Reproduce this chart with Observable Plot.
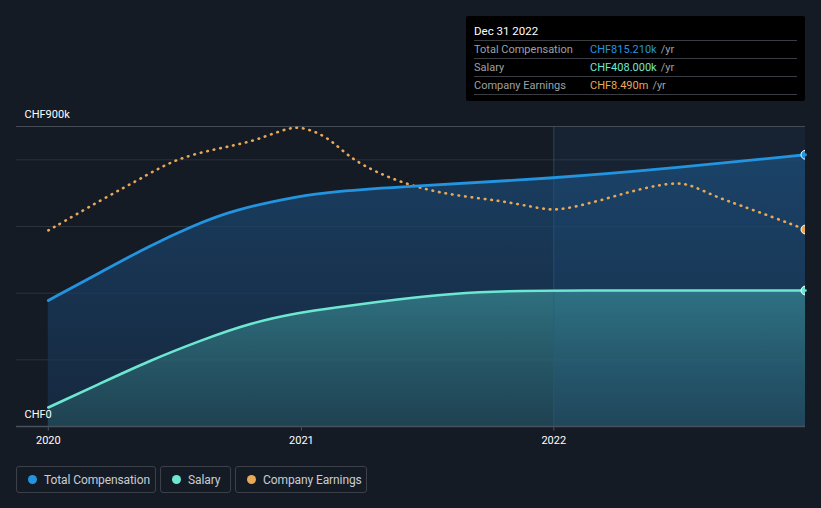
<!DOCTYPE html>
<html>
<head>
<meta charset="utf-8">
<script src="https://cdn.jsdelivr.net/npm/d3@7"></script>
<script src="https://cdn.jsdelivr.net/npm/@observablehq/plot@0.6"></script>
<style>
  html, body { margin: 0; padding: 0; }
  body { background: #151b25; width: 821px; height: 508px; overflow: hidden; position: relative; font-family: Roboto, "Noto Sans", sans-serif; }
  #chart { position: absolute; left: 0; top: 0; }
  #tip { position: absolute; left: 466px; top: 16px; width: 339px; height: 85px; background: #000; border-radius: 2px; box-sizing: border-box; padding: 0 8px; }
  #tip .title { color: #fff; font-size: 11.5px; height: 24px; line-height: 30px; border-bottom: 1px solid #3a3e44; }
  #tip .row { display: flex; font-size: 11px; height: 17px; line-height: 17px; border-bottom: 1px solid #3a3e44; }
  #tip .lab { color: #9ca0a6; width: 116px; }
  #tip .unit { color: #9ca0a6; margin-left: 4px; }
  #legend { position: absolute; left: 16px; top: 466px; display: flex; gap: 4px; }
  .btn { height: 27px; box-sizing: border-box; border: 1px solid #3b4049; border-radius: 3px; display: flex; align-items: center; padding: 0 0 0 11px; color: #c9cdd2; font-size: 12px; letter-spacing: -0.1px; white-space: nowrap; overflow: visible; }
  .btn i { width: 9px; height: 9px; border-radius: 50%; display: inline-block; margin-right: 7px; flex: none; }
</style>
</head>
<body>
<div id="chart"></div>
<div id="tip">
  <div class="title">Dec 31 2022</div>
  <div class="row"><span class="lab">Total Compensation</span><span style="color:#2394df">CHF815.210k</span><span class="unit">/yr</span></div>
  <div class="row"><span class="lab">Salary</span><span style="color:#6ee7d2">CHF408.000k</span><span class="unit">/yr</span></div>
  <div class="row"><span class="lab">Company Earnings</span><span style="color:#e8a857">CHF8.490m</span><span class="unit">/yr</span></div>
</div>
<div id="legend">
  <div class="btn" style="width:140px"><i style="background:#2394df"></i>Total Compensation</div>
  <div class="btn" style="width:71px"><i style="background:#6ee7d2"></i>Salary</div>
  <div class="btn" style="width:132px"><i style="background:#e8a857"></i>Company Earnings</div>
</div>
<script>
// ---- data (CHF thousands unless noted) ----
const compDates = ["2020-01-01","2020-03-16","2020-05-27","2020-07-29","2020-09-24","2021-01-01","2021-02-13","2021-05-25","2022-01-01","2022-07-03","2022-12-31"];
const compValues = [378, 462, 543, 603, 650, 693, 704, 720, 744, 777, 815.21];

const salaryDates = ["2020-01-01","2020-03-16","2020-05-27","2020-08-08","2020-10-19","2021-01-01","2021-02-13","2021-05-25","2021-08-06","2021-11-01","2022-01-01","2022-12-31"];
const salaryValues = [57, 129, 198, 258, 311, 343, 355, 383, 399, 407, 408, 408];

// company earnings in CHF millions
const earningsDates = ["2020-01-01","2020-03-16","2020-05-27","2020-07-05","2020-09-01","2020-10-19","2020-12-06","2021-01-01","2021-02-13","2021-03-14","2021-05-25","2021-08-06","2021-10-17","2021-12-14","2022-01-11","2022-03-20","2022-05-07","2022-06-29","2022-07-22","2022-08-26","2022-09-28","2022-11-15","2022-12-31"];
const earningsValues = [8.45, 9.74, 10.91, 11.55, 11.98, 12.25, 12.80, 12.97, 12.41, 11.47, 10.47, 9.96, 9.74, 9.38, 9.30, 9.83, 10.26, 10.55, 10.36, 9.87, 9.53, 9.01, 8.49];

const yLabelValues = [0, 900];
const yLabelTexts = ["CHF0", "CHF900k"];
const gridValues = [200, 400, 600, 800];
const xTickYears = [2020, 2021, 2022];
const highlightStart = "2022-01-01";
const domainStart = "2019-11-16";
const domainEnd = "2022-12-31";
const yMax = 900;
const tickLength = -14; // in y units below the baseline
const earningsToAxis = 69.6; // CHF k of axis per CHF m of earnings

const parse = d3.utcParse("%Y-%m-%d");
const comp = compDates.map((d, i) => ({date: parse(d), value: compValues[i]}));
const salary = salaryDates.map((d, i) => ({date: parse(d), value: salaryValues[i]}));
const earnings = earningsDates.map((d, i) => ({date: parse(d), value: earningsValues[i] * earningsToAxis}));
const yLabels = yLabelValues.map((v, i) => ({value: v, text: yLabelTexts[i]}));
const xTicks = xTickYears.map(y => ({date: new Date(Date.UTC(y, 0, 1)), label: String(y)}));
const hl = [{x1: parse(highlightStart), x2: parse(domainEnd), y1: 0, y2: yMax}];

const defs = () => {
  const g = d3.create("svg:defs");
  const b = g.append("linearGradient").attr("id", "gBlue").attr("x1", 0).attr("y1", 0).attr("x2", 0).attr("y2", 1);
  b.append("stop").attr("offset", "0%").attr("stop-color", "#1b4a75").attr("stop-opacity", 0.75);
  b.append("stop").attr("offset", "100%").attr("stop-color", "#173150").attr("stop-opacity", 0.6);
  const t = g.append("linearGradient").attr("id", "gTeal").attr("x1", 0).attr("y1", 0).attr("x2", 0).attr("y2", 1);
  t.append("stop").attr("offset", "0%").attr("stop-color", "#3f9ba0").attr("stop-opacity", 0.6);
  t.append("stop").attr("offset", "100%").attr("stop-color", "#2f7276").attr("stop-opacity", 0.35);
  return g.node();
};

const curve = "basis";
const plot = Plot.plot({
  width: 821,
  height: 460,
  marginLeft: 16,
  marginRight: 16,
  marginTop: 126,
  marginBottom: 34,
  style: {background: "transparent", color: "#e6e6e6", fontFamily: "Roboto, sans-serif", fontSize: "11px", overflow: "visible"},
  x: {type: "utc", domain: [parse(domainStart), parse(domainEnd)], axis: null},
  y: {type: "linear", domain: [0, yMax], axis: null},
  marks: [
    defs,
    Plot.ruleY(gridValues, {stroke: "#2b323c", strokeWidth: 1}),
    Plot.areaY(comp, {x: "date", y: "value", fill: "url(#gBlue)", curve}),
    Plot.areaY(salary, {x: "date", y: "value", fill: "url(#gTeal)", curve}),
    Plot.rect(hl, {x1: "x1", x2: "x2", y1: "y1", y2: "y2", fill: "#2a7ab8", fillOpacity: 0.09}),
    Plot.ruleX(hl, {x: "x1", y1: "y1", y2: "y2", stroke: "#2f5878", strokeOpacity: 0.6}),
    Plot.ruleY([yMax], {stroke: "#454b54", strokeWidth: 1}),
    Plot.ruleY([0], {stroke: "#4a5059", strokeWidth: 1.5}),
    Plot.ruleX(xTicks, {x: "date", y1: 0, y2: tickLength, stroke: "#4a5059"}),
    Plot.lineY(earnings, {x: "date", y: "value", stroke: "#e8a857", strokeWidth: 2.6, strokeDasharray: "0.6 6", strokeLinecap: "round", curve}),
    Plot.lineY(salary, {x: "date", y: "value", stroke: "#6ee7d2", strokeWidth: 2.6, curve}),
    Plot.lineY(comp, {x: "date", y: "value", stroke: "#2394df", strokeWidth: 2.8, curve}),
    Plot.dot([comp[comp.length - 1]], {x: "date", y: "value", r: 4.5, fill: "#2394df", stroke: "#fff", strokeWidth: 1, clip: true}),
    Plot.dot([salary[salary.length - 1]], {x: "date", y: "value", r: 4.5, fill: "#6ee7d2", stroke: "#fff", strokeWidth: 1, clip: true}),
    Plot.dot([earnings[earnings.length - 1]], {x: "date", y: "value", r: 4.5, fill: "#e8a857", stroke: "#fff", strokeWidth: 1, clip: true}),
    Plot.text(yLabels, {y: "value", text: "text", frameAnchor: "left", dx: 8, dy: -12, textAnchor: "start", fill: "#ffffff", fontSize: 11}),
    Plot.text(xTicks, {x: "date", y: 0, text: "label", dy: 14, fill: "#ffffff", fontSize: 11})
  ]
});
document.getElementById("chart").appendChild(plot);
</script>
</body>
</html>
